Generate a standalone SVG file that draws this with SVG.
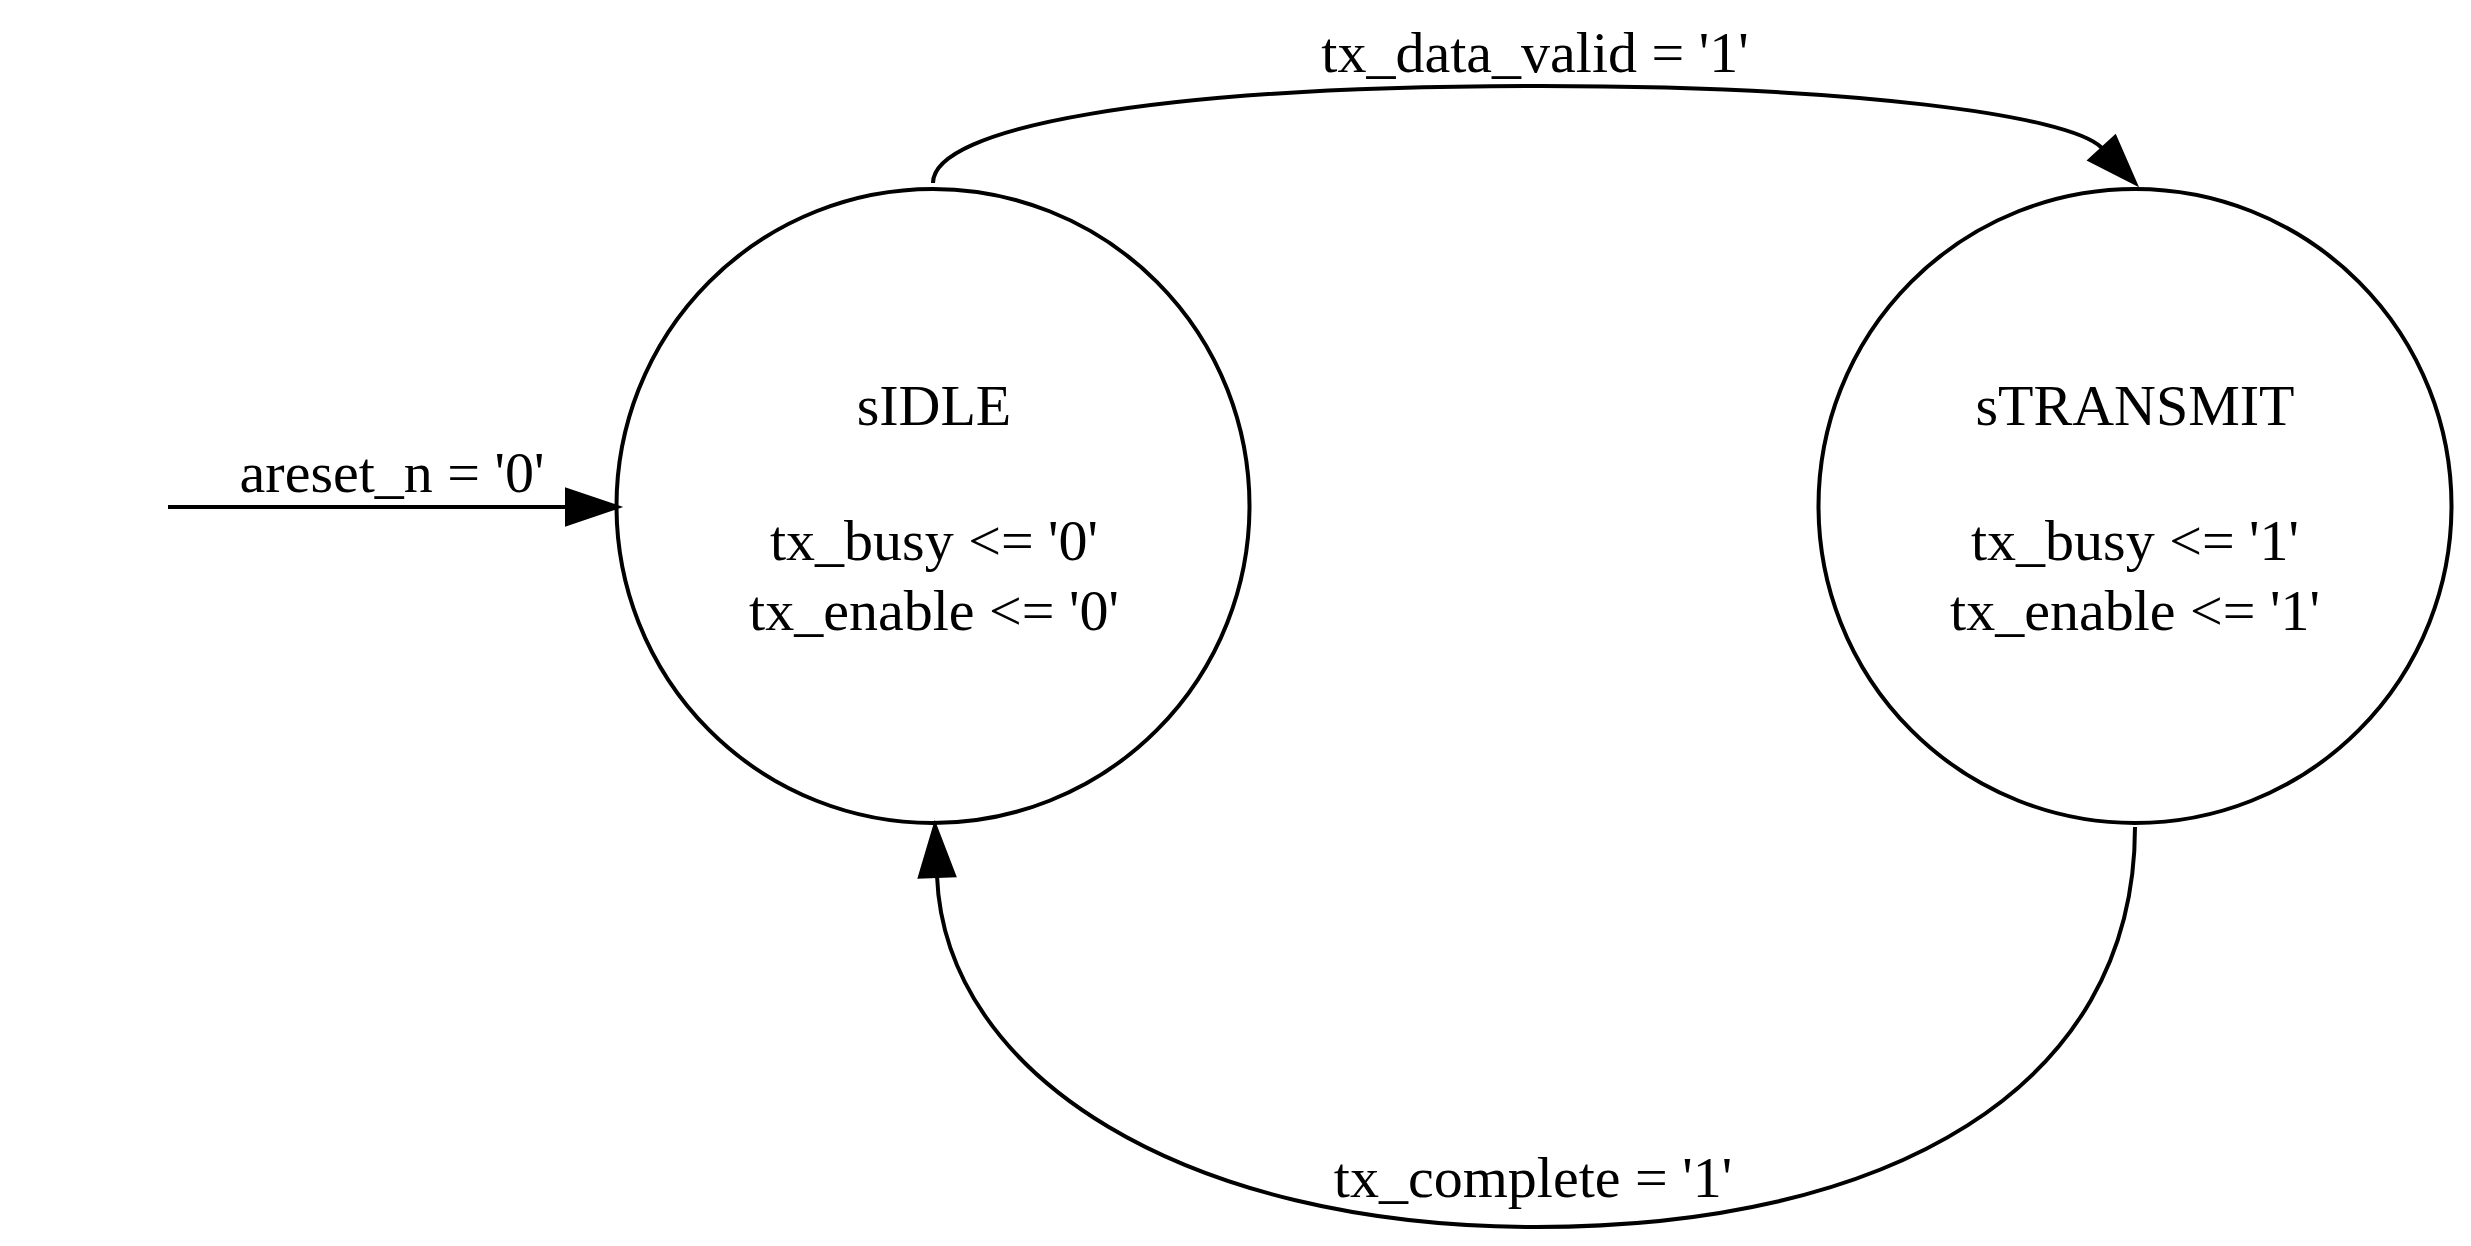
<svg xmlns="http://www.w3.org/2000/svg" width="2471" height="1246" viewBox="0 0 2471 1246">
<style>
text{font-family:"Liberation Serif","Times New Roman",serif;font-size:58px;fill:#000;text-anchor:middle}
.node ellipse{fill:none;stroke:#000;stroke-width:4}
.edge path{fill:none;stroke:#000;stroke-width:4}
.edge polygon{fill:#000;stroke:#000;stroke-width:4;stroke-linejoin:miter}
</style>
<rect width="2471" height="1246" fill="#fff"/>
<g id="sIDLE" class="node">
<ellipse cx="933" cy="506" rx="316.5" ry="317"/>
<text x="934" y="425">sIDLE</text>
<text x="934" y="560">tx_busy &lt;= '0'</text>
<text x="934" y="630">tx_enable &lt;= '0'</text>
</g>
<g id="sTRANSMIT" class="node">
<ellipse cx="2135" cy="506" rx="316.5" ry="317"/>
<text x="2135" y="425">sTRANSMIT</text>
<text x="2135" y="560">tx_busy &lt;= '1'</text>
<text x="2135" y="630">tx_enable &lt;= '1'</text>
</g>
<g id="connectors">
<g class="edge" id="e_reset">
<path d="M168,507 L567,507"/>
<polygon points="617,507 567,490 567,524"/>
<text x="392" y="492">areset_n = '0'</text>
</g>
<g class="edge" id="e_idle_tx">
<path d="M933,183 C933,128 1150,86 1540,86 C1850,86 2070,115 2102,148"/>
<polygon points="2135,183 2090,160 2115,137"/>
<text x="1535" y="72">tx_data_valid = '1'</text>
</g>
<g class="edge" id="e_tx_idle">
<path d="M2135,827 C2135,1090 1887,1227 1536,1227 C1185,1227 945,1076 937,876"/>
<polygon points="935,826 920,876.7 954,875.3"/>
<text x="1533" y="1197">tx_complete = '1'</text>
</g>
</g>
</svg>
